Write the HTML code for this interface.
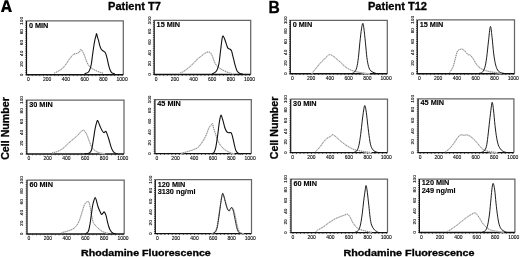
<!DOCTYPE html>
<html><head><meta charset="utf-8"><style>
html,body{margin:0;padding:0;background:#fff;width:520px;height:257px;overflow:hidden}
svg{display:block;font-family:"Liberation Sans", sans-serif;filter:blur(0.3px)}
</style></head><body>
<svg width="520" height="257" viewBox="0 0 520 257">
<rect width="520" height="257" fill="#fff"/>
<path d="M26.50 20.90H123.30V74.80" fill="none" stroke="#666" stroke-width="1.25"/>
<path d="M26.50 20.90V74.80" fill="none" stroke="#111" stroke-width="1.2"/>
<path d="M25.90 74.80H123.30" fill="none" stroke="#111" stroke-width="1.45"/>
<path d="M28.50 75.20v0.9 M32.24 75.20v0.9 M35.99 75.20v0.9 M39.73 75.20v0.9 M43.48 75.20v0.9 M47.22 75.20v0.9 M50.96 75.20v0.9 M54.71 75.20v0.9 M58.45 75.20v0.9 M62.20 75.20v0.9 M65.94 75.20v0.9 M69.68 75.20v0.9 M73.43 75.20v0.9 M77.17 75.20v0.9 M80.92 75.20v0.9 M84.66 75.20v0.9 M88.40 75.20v0.9 M92.15 75.20v0.9 M95.89 75.20v0.9 M99.64 75.20v0.9 M103.38 75.20v0.9 M107.12 75.20v0.9 M110.87 75.20v0.9 M114.61 75.20v0.9 M118.36 75.20v0.9 M122.10 75.20v0.9 M26.20 74.80h-1.0 M26.20 72.64h-1.0 M26.20 70.49h-1.0 M26.20 68.33h-1.0 M26.20 66.18h-1.0 M26.20 64.02h-1.0 M26.20 61.86h-1.0 M26.20 59.71h-1.0 M26.20 57.55h-1.0 M26.20 55.40h-1.0 M26.20 53.24h-1.0 M26.20 51.08h-1.0 M26.20 48.93h-1.0 M26.20 46.77h-1.0 M26.20 44.62h-1.0 M26.20 42.46h-1.0 M26.20 40.30h-1.0 M26.20 38.15h-1.0 M26.20 35.99h-1.0 M26.20 33.84h-1.0 M26.20 31.68h-1.0 M26.20 29.52h-1.0 M26.20 27.37h-1.0 M26.20 25.21h-1.0 M26.20 23.06h-1.0 M26.20 20.90h-1.0" stroke="#111" stroke-width="0.7" fill="none"/>
<text transform="translate(28.50 81.10) scale(1 0.9)" font-size="5.0" text-anchor="middle" fill="#000" stroke="#000" stroke-width="0.1">0</text>
<text transform="translate(47.22 81.10) scale(1 0.9)" font-size="5.0" text-anchor="middle" fill="#000" stroke="#000" stroke-width="0.1">200</text>
<text transform="translate(65.94 81.10) scale(1 0.9)" font-size="5.0" text-anchor="middle" fill="#000" stroke="#000" stroke-width="0.1">400</text>
<text transform="translate(84.66 81.10) scale(1 0.9)" font-size="5.0" text-anchor="middle" fill="#000" stroke="#000" stroke-width="0.1">600</text>
<text transform="translate(103.38 81.10) scale(1 0.9)" font-size="5.0" text-anchor="middle" fill="#000" stroke="#000" stroke-width="0.1">800</text>
<text transform="translate(122.10 81.10) scale(1 0.9)" font-size="5.0" text-anchor="middle" fill="#000" stroke="#000" stroke-width="0.1">1000</text>
<text transform="translate(22.80 74.80) rotate(-90) scale(1 0.88)" font-size="4.8" text-anchor="middle" fill="#000" stroke="#000" stroke-width="0.1">0</text>
<text transform="translate(22.80 64.02) rotate(-90) scale(1 0.88)" font-size="4.8" text-anchor="middle" fill="#000" stroke="#000" stroke-width="0.1">20</text>
<text transform="translate(22.80 53.24) rotate(-90) scale(1 0.88)" font-size="4.8" text-anchor="middle" fill="#000" stroke="#000" stroke-width="0.1">40</text>
<text transform="translate(22.80 42.46) rotate(-90) scale(1 0.88)" font-size="4.8" text-anchor="middle" fill="#000" stroke="#000" stroke-width="0.1">60</text>
<text transform="translate(22.80 31.68) rotate(-90) scale(1 0.88)" font-size="4.8" text-anchor="middle" fill="#000" stroke="#000" stroke-width="0.1">80</text>
<text transform="translate(22.80 20.90) rotate(-90) scale(1 0.88)" font-size="4.8" text-anchor="middle" fill="#000" stroke="#000" stroke-width="0.1">100</text>
<text x="28.90" y="27.50" font-size="7.3" font-weight="bold" fill="#000" stroke="#000" stroke-width="0.12">0 MIN</text>
<path d="M54.20 73.19 C54.90 72.84 57.00 71.90 58.40 71.08 C59.80 70.26 61.32 69.44 62.60 68.26 C63.88 67.09 65.05 65.45 66.10 64.04 C67.15 62.63 67.97 61.11 68.90 59.82 C69.83 58.53 70.88 57.24 71.70 56.30 C72.52 55.36 72.98 54.65 73.80 54.19 C74.62 53.72 75.67 53.83 76.60 53.48 C77.53 53.13 78.70 52.74 79.40 52.07 C80.10 51.40 80.28 49.58 80.80 49.46 C81.32 49.34 81.92 50.46 82.50 51.37 C83.08 52.27 83.77 53.60 84.30 54.89 C84.83 56.18 85.23 57.82 85.70 59.11 C86.17 60.40 86.52 61.46 87.10 62.63 C87.68 63.81 88.30 65.13 89.20 66.15 C90.10 67.17 91.05 67.88 92.50 68.77 C93.95 69.65 96.10 70.73 97.90 71.48 C99.70 72.24 102.40 72.99 103.30 73.29" fill="none" stroke="#dedede" stroke-width="1.3"/>
<path d="M54.20 73.19 C54.90 72.84 57.00 71.90 58.40 71.08 C59.80 70.26 61.32 69.44 62.60 68.26 C63.88 67.09 65.05 65.45 66.10 64.04 C67.15 62.63 67.97 61.11 68.90 59.82 C69.83 58.53 70.88 57.24 71.70 56.30 C72.52 55.36 72.98 54.65 73.80 54.19 C74.62 53.72 75.67 53.83 76.60 53.48 C77.53 53.13 78.70 52.74 79.40 52.07 C80.10 51.40 80.28 49.58 80.80 49.46 C81.32 49.34 81.92 50.46 82.50 51.37 C83.08 52.27 83.77 53.60 84.30 54.89 C84.83 56.18 85.23 57.82 85.70 59.11 C86.17 60.40 86.52 61.46 87.10 62.63 C87.68 63.81 88.30 65.13 89.20 66.15 C90.10 67.17 91.05 67.88 92.50 68.77 C93.95 69.65 96.10 70.73 97.90 71.48 C99.70 72.24 102.40 72.99 103.30 73.29" fill="none" stroke="#7a7a7a" stroke-width="0.95" stroke-dasharray="1.0 1.0"/>
<path d="M84.50 73.79 C85.10 73.56 87.22 73.07 88.10 72.39 C88.98 71.70 89.27 71.03 89.80 69.67 C90.33 68.31 90.85 66.64 91.30 64.24 C91.75 61.84 92.08 58.29 92.50 55.29 C92.92 52.29 93.40 48.81 93.80 46.24 C94.20 43.68 94.57 41.55 94.90 39.91 C95.23 38.26 95.52 37.43 95.80 36.39 C96.08 35.35 96.32 33.52 96.60 33.67 C96.88 33.82 97.20 36.25 97.50 37.29 C97.80 38.33 98.03 38.56 98.40 39.91 C98.77 41.25 99.25 43.83 99.70 45.34 C100.15 46.84 100.57 48.05 101.10 48.96 C101.63 49.86 102.30 50.26 102.90 50.77 C103.50 51.27 104.18 51.37 104.70 51.97 C105.22 52.58 105.55 53.10 106.00 54.39 C106.45 55.68 106.97 57.92 107.40 59.72 C107.83 61.51 108.15 63.44 108.60 65.15 C109.05 66.86 109.55 68.68 110.10 69.97 C110.65 71.26 111.10 72.25 111.90 72.89 C112.70 73.53 114.40 73.64 114.90 73.79" fill="none" stroke="#111" stroke-width="1.1" stroke-linejoin="round"/>
<path d="M154.20 20.40H250.70V74.45" fill="none" stroke="#666" stroke-width="1.25"/>
<path d="M154.20 20.40V74.45" fill="none" stroke="#111" stroke-width="1.2"/>
<path d="M153.60 74.45H250.70" fill="none" stroke="#111" stroke-width="1.45"/>
<path d="M156.20 74.85v0.9 M159.93 74.85v0.9 M163.66 74.85v0.9 M167.40 74.85v0.9 M171.13 74.85v0.9 M174.86 74.85v0.9 M178.59 74.85v0.9 M182.32 74.85v0.9 M186.06 74.85v0.9 M189.79 74.85v0.9 M193.52 74.85v0.9 M197.25 74.85v0.9 M200.98 74.85v0.9 M204.72 74.85v0.9 M208.45 74.85v0.9 M212.18 74.85v0.9 M215.91 74.85v0.9 M219.64 74.85v0.9 M223.38 74.85v0.9 M227.11 74.85v0.9 M230.84 74.85v0.9 M234.57 74.85v0.9 M238.30 74.85v0.9 M242.04 74.85v0.9 M245.77 74.85v0.9 M249.50 74.85v0.9 M153.90 74.45h-1.0 M153.90 72.29h-1.0 M153.90 70.13h-1.0 M153.90 67.96h-1.0 M153.90 65.80h-1.0 M153.90 63.64h-1.0 M153.90 61.48h-1.0 M153.90 59.32h-1.0 M153.90 57.15h-1.0 M153.90 54.99h-1.0 M153.90 52.83h-1.0 M153.90 50.67h-1.0 M153.90 48.51h-1.0 M153.90 46.34h-1.0 M153.90 44.18h-1.0 M153.90 42.02h-1.0 M153.90 39.86h-1.0 M153.90 37.70h-1.0 M153.90 35.53h-1.0 M153.90 33.37h-1.0 M153.90 31.21h-1.0 M153.90 29.05h-1.0 M153.90 26.89h-1.0 M153.90 24.72h-1.0 M153.90 22.56h-1.0 M153.90 20.40h-1.0" stroke="#111" stroke-width="0.7" fill="none"/>
<text transform="translate(156.20 80.75) scale(1 0.9)" font-size="5.0" text-anchor="middle" fill="#000" stroke="#000" stroke-width="0.1">0</text>
<text transform="translate(174.86 80.75) scale(1 0.9)" font-size="5.0" text-anchor="middle" fill="#000" stroke="#000" stroke-width="0.1">200</text>
<text transform="translate(193.52 80.75) scale(1 0.9)" font-size="5.0" text-anchor="middle" fill="#000" stroke="#000" stroke-width="0.1">400</text>
<text transform="translate(212.18 80.75) scale(1 0.9)" font-size="5.0" text-anchor="middle" fill="#000" stroke="#000" stroke-width="0.1">600</text>
<text transform="translate(230.84 80.75) scale(1 0.9)" font-size="5.0" text-anchor="middle" fill="#000" stroke="#000" stroke-width="0.1">800</text>
<text transform="translate(249.50 80.75) scale(1 0.9)" font-size="5.0" text-anchor="middle" fill="#000" stroke="#000" stroke-width="0.1">1000</text>
<text transform="translate(150.50 74.45) rotate(-90) scale(1 0.88)" font-size="4.8" text-anchor="middle" fill="#000" stroke="#000" stroke-width="0.1">0</text>
<text transform="translate(150.50 63.64) rotate(-90) scale(1 0.88)" font-size="4.8" text-anchor="middle" fill="#000" stroke="#000" stroke-width="0.1">20</text>
<text transform="translate(150.50 52.83) rotate(-90) scale(1 0.88)" font-size="4.8" text-anchor="middle" fill="#000" stroke="#000" stroke-width="0.1">40</text>
<text transform="translate(150.50 42.02) rotate(-90) scale(1 0.88)" font-size="4.8" text-anchor="middle" fill="#000" stroke="#000" stroke-width="0.1">60</text>
<text transform="translate(150.50 31.21) rotate(-90) scale(1 0.88)" font-size="4.8" text-anchor="middle" fill="#000" stroke="#000" stroke-width="0.1">80</text>
<text transform="translate(150.50 20.40) rotate(-90) scale(1 0.88)" font-size="4.8" text-anchor="middle" fill="#000" stroke="#000" stroke-width="0.1">100</text>
<text x="156.60" y="27.00" font-size="7.3" font-weight="bold" fill="#000" stroke="#000" stroke-width="0.12">15 MIN</text>
<path d="M178.50 73.74 C179.20 73.44 181.30 72.70 182.70 71.93 C184.10 71.16 185.62 70.05 186.90 69.11 C188.18 68.16 189.23 67.34 190.40 66.28 C191.57 65.22 192.73 63.93 193.90 62.75 C195.07 61.58 196.23 60.28 197.40 59.22 C198.57 58.16 199.73 57.34 200.90 56.40 C202.07 55.46 203.35 54.28 204.40 53.58 C205.45 52.87 206.38 52.40 207.20 52.16 C208.02 51.93 208.65 51.93 209.30 52.16 C209.95 52.40 210.57 52.87 211.10 53.58 C211.63 54.28 212.08 55.36 212.50 56.40 C212.92 57.44 213.07 58.50 213.60 59.83 C214.13 61.16 214.75 63.00 215.70 64.37 C216.65 65.73 218.10 67.04 219.30 68.00 C220.50 68.95 221.40 69.36 222.90 70.11 C224.40 70.87 226.52 71.90 228.30 72.53 C230.08 73.17 232.72 73.71 233.60 73.95" fill="none" stroke="#dedede" stroke-width="1.3"/>
<path d="M178.50 73.74 C179.20 73.44 181.30 72.70 182.70 71.93 C184.10 71.16 185.62 70.05 186.90 69.11 C188.18 68.16 189.23 67.34 190.40 66.28 C191.57 65.22 192.73 63.93 193.90 62.75 C195.07 61.58 196.23 60.28 197.40 59.22 C198.57 58.16 199.73 57.34 200.90 56.40 C202.07 55.46 203.35 54.28 204.40 53.58 C205.45 52.87 206.38 52.40 207.20 52.16 C208.02 51.93 208.65 51.93 209.30 52.16 C209.95 52.40 210.57 52.87 211.10 53.58 C211.63 54.28 212.08 55.36 212.50 56.40 C212.92 57.44 213.07 58.50 213.60 59.83 C214.13 61.16 214.75 63.00 215.70 64.37 C216.65 65.73 218.10 67.04 219.30 68.00 C220.50 68.95 221.40 69.36 222.90 70.11 C224.40 70.87 226.52 71.90 228.30 72.53 C230.08 73.17 232.72 73.71 233.60 73.95" fill="none" stroke="#7a7a7a" stroke-width="0.95" stroke-dasharray="1.0 1.0"/>
<path d="M212.20 73.95 C212.78 73.61 214.82 72.77 215.70 71.93 C216.58 71.09 216.95 70.32 217.50 68.90 C218.05 67.49 218.58 65.71 219.00 63.46 C219.42 61.21 219.65 58.25 220.00 55.39 C220.35 52.53 220.77 49.04 221.10 46.32 C221.43 43.59 221.70 40.80 222.00 39.06 C222.30 37.31 222.52 35.96 222.90 35.83 C223.28 35.69 223.85 37.26 224.30 38.25 C224.75 39.24 225.18 40.58 225.60 41.78 C226.02 42.97 226.42 44.35 226.80 45.41 C227.18 46.47 227.42 47.53 227.90 48.13 C228.38 48.74 229.10 48.58 229.70 49.04 C230.30 49.49 231.00 49.79 231.50 50.85 C232.00 51.91 232.28 53.74 232.70 55.39 C233.12 57.04 233.55 58.94 234.00 60.74 C234.45 62.53 234.87 64.43 235.40 66.18 C235.93 67.93 236.45 70.01 237.20 71.22 C237.95 72.43 239.00 72.99 239.90 73.44 C240.80 73.90 242.15 73.86 242.60 73.95" fill="none" stroke="#111" stroke-width="1.1" stroke-linejoin="round"/>
<path d="M26.80 100.00H124.00V154.00" fill="none" stroke="#666" stroke-width="1.25"/>
<path d="M26.80 100.00V154.00" fill="none" stroke="#111" stroke-width="1.2"/>
<path d="M26.20 154.00H124.00" fill="none" stroke="#111" stroke-width="1.45"/>
<path d="M28.80 154.40v0.9 M32.56 154.40v0.9 M36.32 154.40v0.9 M40.08 154.40v0.9 M43.84 154.40v0.9 M47.60 154.40v0.9 M51.36 154.40v0.9 M55.12 154.40v0.9 M58.88 154.40v0.9 M62.64 154.40v0.9 M66.40 154.40v0.9 M70.16 154.40v0.9 M73.92 154.40v0.9 M77.68 154.40v0.9 M81.44 154.40v0.9 M85.20 154.40v0.9 M88.96 154.40v0.9 M92.72 154.40v0.9 M96.48 154.40v0.9 M100.24 154.40v0.9 M104.00 154.40v0.9 M107.76 154.40v0.9 M111.52 154.40v0.9 M115.28 154.40v0.9 M119.04 154.40v0.9 M122.80 154.40v0.9 M26.50 154.00h-1.0 M26.50 151.84h-1.0 M26.50 149.68h-1.0 M26.50 147.52h-1.0 M26.50 145.36h-1.0 M26.50 143.20h-1.0 M26.50 141.04h-1.0 M26.50 138.88h-1.0 M26.50 136.72h-1.0 M26.50 134.56h-1.0 M26.50 132.40h-1.0 M26.50 130.24h-1.0 M26.50 128.08h-1.0 M26.50 125.92h-1.0 M26.50 123.76h-1.0 M26.50 121.60h-1.0 M26.50 119.44h-1.0 M26.50 117.28h-1.0 M26.50 115.12h-1.0 M26.50 112.96h-1.0 M26.50 110.80h-1.0 M26.50 108.64h-1.0 M26.50 106.48h-1.0 M26.50 104.32h-1.0 M26.50 102.16h-1.0 M26.50 100.00h-1.0" stroke="#111" stroke-width="0.7" fill="none"/>
<text transform="translate(28.80 160.30) scale(1 0.9)" font-size="5.0" text-anchor="middle" fill="#000" stroke="#000" stroke-width="0.1">0</text>
<text transform="translate(47.60 160.30) scale(1 0.9)" font-size="5.0" text-anchor="middle" fill="#000" stroke="#000" stroke-width="0.1">200</text>
<text transform="translate(66.40 160.30) scale(1 0.9)" font-size="5.0" text-anchor="middle" fill="#000" stroke="#000" stroke-width="0.1">400</text>
<text transform="translate(85.20 160.30) scale(1 0.9)" font-size="5.0" text-anchor="middle" fill="#000" stroke="#000" stroke-width="0.1">600</text>
<text transform="translate(104.00 160.30) scale(1 0.9)" font-size="5.0" text-anchor="middle" fill="#000" stroke="#000" stroke-width="0.1">800</text>
<text transform="translate(122.80 160.30) scale(1 0.9)" font-size="5.0" text-anchor="middle" fill="#000" stroke="#000" stroke-width="0.1">1000</text>
<text transform="translate(23.10 154.00) rotate(-90) scale(1 0.88)" font-size="4.8" text-anchor="middle" fill="#000" stroke="#000" stroke-width="0.1">0</text>
<text transform="translate(23.10 143.20) rotate(-90) scale(1 0.88)" font-size="4.8" text-anchor="middle" fill="#000" stroke="#000" stroke-width="0.1">20</text>
<text transform="translate(23.10 132.40) rotate(-90) scale(1 0.88)" font-size="4.8" text-anchor="middle" fill="#000" stroke="#000" stroke-width="0.1">40</text>
<text transform="translate(23.10 121.60) rotate(-90) scale(1 0.88)" font-size="4.8" text-anchor="middle" fill="#000" stroke="#000" stroke-width="0.1">60</text>
<text transform="translate(23.10 110.80) rotate(-90) scale(1 0.88)" font-size="4.8" text-anchor="middle" fill="#000" stroke="#000" stroke-width="0.1">80</text>
<text transform="translate(23.10 100.00) rotate(-90) scale(1 0.88)" font-size="4.8" text-anchor="middle" fill="#000" stroke="#000" stroke-width="0.1">100</text>
<text x="29.20" y="106.60" font-size="7.3" font-weight="bold" fill="#000" stroke="#000" stroke-width="0.12">30 MIN</text>
<path d="M52.20 152.79 C52.90 152.63 55.00 152.26 56.40 151.79 C57.80 151.32 59.32 150.68 60.60 149.98 C61.88 149.27 62.93 148.55 64.10 147.56 C65.27 146.58 66.43 145.15 67.60 144.04 C68.77 142.94 69.93 141.92 71.10 140.93 C72.27 139.94 73.43 139.12 74.60 138.11 C75.77 137.11 76.98 136.02 78.10 134.89 C79.22 133.77 80.37 132.15 81.30 131.37 C82.23 130.60 83.00 130.15 83.70 130.27 C84.40 130.39 84.92 131.19 85.50 132.08 C86.08 132.97 86.53 133.99 87.20 135.60 C87.87 137.21 88.77 139.87 89.50 141.73 C90.23 143.59 90.65 145.25 91.60 146.76 C92.55 148.27 93.85 149.76 95.20 150.78 C96.55 151.80 98.05 152.39 99.70 152.89 C101.35 153.40 104.20 153.65 105.10 153.80" fill="none" stroke="#dedede" stroke-width="1.3"/>
<path d="M52.20 152.79 C52.90 152.63 55.00 152.26 56.40 151.79 C57.80 151.32 59.32 150.68 60.60 149.98 C61.88 149.27 62.93 148.55 64.10 147.56 C65.27 146.58 66.43 145.15 67.60 144.04 C68.77 142.94 69.93 141.92 71.10 140.93 C72.27 139.94 73.43 139.12 74.60 138.11 C75.77 137.11 76.98 136.02 78.10 134.89 C79.22 133.77 80.37 132.15 81.30 131.37 C82.23 130.60 83.00 130.15 83.70 130.27 C84.40 130.39 84.92 131.19 85.50 132.08 C86.08 132.97 86.53 133.99 87.20 135.60 C87.87 137.21 88.77 139.87 89.50 141.73 C90.23 143.59 90.65 145.25 91.60 146.76 C92.55 148.27 93.85 149.76 95.20 150.78 C96.55 151.80 98.05 152.39 99.70 152.89 C101.35 153.40 104.20 153.65 105.10 153.80" fill="none" stroke="#7a7a7a" stroke-width="0.95" stroke-dasharray="1.0 1.0"/>
<path d="M84.50 153.80 C85.25 153.72 87.87 153.83 89.00 153.30 C90.13 152.76 90.72 151.94 91.30 150.58 C91.88 149.22 92.08 147.41 92.50 145.15 C92.92 142.89 93.40 139.55 93.80 137.01 C94.20 134.46 94.52 131.96 94.90 129.87 C95.28 127.77 95.68 125.99 96.10 124.44 C96.52 122.88 96.98 120.82 97.40 120.51 C97.82 120.21 98.10 121.52 98.60 122.63 C99.10 123.73 99.80 125.79 100.40 127.15 C101.00 128.51 101.60 129.87 102.20 130.77 C102.80 131.68 103.40 132.50 104.00 132.58 C104.60 132.66 105.27 130.97 105.80 131.27 C106.33 131.58 106.67 132.98 107.20 134.39 C107.73 135.80 108.40 137.78 109.00 139.72 C109.60 141.66 110.20 144.25 110.80 146.06 C111.40 147.87 111.95 149.44 112.60 150.58 C113.25 151.72 113.90 152.36 114.70 152.89 C115.50 153.43 116.95 153.65 117.40 153.80" fill="none" stroke="#111" stroke-width="1.1" stroke-linejoin="round"/>
<path d="M154.90 99.50H251.30V153.60" fill="none" stroke="#666" stroke-width="1.25"/>
<path d="M154.90 99.50V153.60" fill="none" stroke="#111" stroke-width="1.2"/>
<path d="M154.30 153.60H251.30" fill="none" stroke="#111" stroke-width="1.45"/>
<path d="M156.90 154.00v0.9 M160.63 154.00v0.9 M164.36 154.00v0.9 M168.08 154.00v0.9 M171.81 154.00v0.9 M175.54 154.00v0.9 M179.27 154.00v0.9 M183.00 154.00v0.9 M186.72 154.00v0.9 M190.45 154.00v0.9 M194.18 154.00v0.9 M197.91 154.00v0.9 M201.64 154.00v0.9 M205.36 154.00v0.9 M209.09 154.00v0.9 M212.82 154.00v0.9 M216.55 154.00v0.9 M220.28 154.00v0.9 M224.00 154.00v0.9 M227.73 154.00v0.9 M231.46 154.00v0.9 M235.19 154.00v0.9 M238.92 154.00v0.9 M242.64 154.00v0.9 M246.37 154.00v0.9 M250.10 154.00v0.9 M154.60 153.60h-1.0 M154.60 151.44h-1.0 M154.60 149.27h-1.0 M154.60 147.11h-1.0 M154.60 144.94h-1.0 M154.60 142.78h-1.0 M154.60 140.62h-1.0 M154.60 138.45h-1.0 M154.60 136.29h-1.0 M154.60 134.12h-1.0 M154.60 131.96h-1.0 M154.60 129.80h-1.0 M154.60 127.63h-1.0 M154.60 125.47h-1.0 M154.60 123.30h-1.0 M154.60 121.14h-1.0 M154.60 118.98h-1.0 M154.60 116.81h-1.0 M154.60 114.65h-1.0 M154.60 112.48h-1.0 M154.60 110.32h-1.0 M154.60 108.16h-1.0 M154.60 105.99h-1.0 M154.60 103.83h-1.0 M154.60 101.66h-1.0 M154.60 99.50h-1.0" stroke="#111" stroke-width="0.7" fill="none"/>
<text transform="translate(156.90 159.90) scale(1 0.9)" font-size="5.0" text-anchor="middle" fill="#000" stroke="#000" stroke-width="0.1">0</text>
<text transform="translate(175.54 159.90) scale(1 0.9)" font-size="5.0" text-anchor="middle" fill="#000" stroke="#000" stroke-width="0.1">200</text>
<text transform="translate(194.18 159.90) scale(1 0.9)" font-size="5.0" text-anchor="middle" fill="#000" stroke="#000" stroke-width="0.1">400</text>
<text transform="translate(212.82 159.90) scale(1 0.9)" font-size="5.0" text-anchor="middle" fill="#000" stroke="#000" stroke-width="0.1">600</text>
<text transform="translate(231.46 159.90) scale(1 0.9)" font-size="5.0" text-anchor="middle" fill="#000" stroke="#000" stroke-width="0.1">800</text>
<text transform="translate(250.10 159.90) scale(1 0.9)" font-size="5.0" text-anchor="middle" fill="#000" stroke="#000" stroke-width="0.1">1000</text>
<text transform="translate(151.20 153.60) rotate(-90) scale(1 0.88)" font-size="4.8" text-anchor="middle" fill="#000" stroke="#000" stroke-width="0.1">0</text>
<text transform="translate(151.20 142.78) rotate(-90) scale(1 0.88)" font-size="4.8" text-anchor="middle" fill="#000" stroke="#000" stroke-width="0.1">20</text>
<text transform="translate(151.20 131.96) rotate(-90) scale(1 0.88)" font-size="4.8" text-anchor="middle" fill="#000" stroke="#000" stroke-width="0.1">40</text>
<text transform="translate(151.20 121.14) rotate(-90) scale(1 0.88)" font-size="4.8" text-anchor="middle" fill="#000" stroke="#000" stroke-width="0.1">60</text>
<text transform="translate(151.20 110.32) rotate(-90) scale(1 0.88)" font-size="4.8" text-anchor="middle" fill="#000" stroke="#000" stroke-width="0.1">80</text>
<text transform="translate(151.20 99.50) rotate(-90) scale(1 0.88)" font-size="4.8" text-anchor="middle" fill="#000" stroke="#000" stroke-width="0.1">100</text>
<text x="157.30" y="106.10" font-size="7.3" font-weight="bold" fill="#000" stroke="#000" stroke-width="0.12">45 MIN</text>
<path d="M180.90 153.30 C181.88 153.04 184.82 152.36 186.80 151.78 C188.78 151.21 191.07 150.49 192.80 149.87 C194.53 149.24 195.98 148.86 197.20 148.05 C198.42 147.24 199.17 146.15 200.10 145.02 C201.03 143.89 201.93 142.65 202.80 141.29 C203.67 139.92 204.57 138.33 205.30 136.85 C206.03 135.36 206.58 133.90 207.20 132.40 C207.82 130.91 208.33 129.11 209.00 127.86 C209.67 126.62 210.62 125.64 211.20 124.94 C211.78 124.23 212.10 123.08 212.50 123.62 C212.90 124.16 213.12 126.50 213.60 128.16 C214.08 129.83 214.80 131.82 215.40 133.62 C216.00 135.42 216.55 137.32 217.20 138.96 C217.85 140.61 218.50 142.14 219.30 143.51 C220.10 144.87 220.95 146.03 222.00 147.14 C223.05 148.25 224.25 149.26 225.60 150.17 C226.95 151.08 228.62 151.95 230.10 152.59 C231.58 153.23 233.77 153.77 234.50 154.00" fill="none" stroke="#dedede" stroke-width="1.3"/>
<path d="M180.90 153.30 C181.88 153.04 184.82 152.36 186.80 151.78 C188.78 151.21 191.07 150.49 192.80 149.87 C194.53 149.24 195.98 148.86 197.20 148.05 C198.42 147.24 199.17 146.15 200.10 145.02 C201.03 143.89 201.93 142.65 202.80 141.29 C203.67 139.92 204.57 138.33 205.30 136.85 C206.03 135.36 206.58 133.90 207.20 132.40 C207.82 130.91 208.33 129.11 209.00 127.86 C209.67 126.62 210.62 125.64 211.20 124.94 C211.78 124.23 212.10 123.08 212.50 123.62 C212.90 124.16 213.12 126.50 213.60 128.16 C214.08 129.83 214.80 131.82 215.40 133.62 C216.00 135.42 216.55 137.32 217.20 138.96 C217.85 140.61 218.50 142.14 219.30 143.51 C220.10 144.87 220.95 146.03 222.00 147.14 C223.05 148.25 224.25 149.26 225.60 150.17 C226.95 151.08 228.62 151.95 230.10 152.59 C231.58 153.23 233.77 153.77 234.50 154.00" fill="none" stroke="#7a7a7a" stroke-width="0.95" stroke-dasharray="1.0 1.0"/>
<path d="M211.30 154.00 C211.73 153.77 213.22 153.43 213.90 152.59 C214.58 151.75 214.95 150.62 215.40 148.96 C215.85 147.29 216.18 145.16 216.60 142.60 C217.02 140.04 217.50 136.63 217.90 133.62 C218.30 130.60 218.65 127.09 219.00 124.53 C219.35 121.97 219.68 119.84 220.00 118.27 C220.32 116.71 220.57 115.30 220.90 115.14 C221.23 114.99 221.60 116.25 222.00 117.37 C222.40 118.48 222.85 120.16 223.30 121.81 C223.75 123.45 224.17 125.66 224.70 127.26 C225.23 128.85 225.85 130.49 226.50 131.39 C227.15 132.30 227.85 132.49 228.60 132.71 C229.35 132.93 230.40 132.25 231.00 132.71 C231.60 133.16 231.82 134.24 232.20 135.43 C232.58 136.63 232.92 138.22 233.30 139.87 C233.68 141.52 234.08 143.61 234.50 145.32 C234.92 147.04 235.20 148.87 235.80 150.17 C236.40 151.46 237.12 152.46 238.10 153.10 C239.08 153.73 241.10 153.85 241.70 154.00" fill="none" stroke="#111" stroke-width="1.1" stroke-linejoin="round"/>
<path d="M27.00 180.20H124.20V234.00" fill="none" stroke="#666" stroke-width="1.25"/>
<path d="M27.00 180.20V234.00" fill="none" stroke="#111" stroke-width="1.2"/>
<path d="M26.40 234.00H124.20" fill="none" stroke="#111" stroke-width="1.45"/>
<path d="M29.00 234.40v0.9 M32.76 234.40v0.9 M36.52 234.40v0.9 M40.28 234.40v0.9 M44.04 234.40v0.9 M47.80 234.40v0.9 M51.56 234.40v0.9 M55.32 234.40v0.9 M59.08 234.40v0.9 M62.84 234.40v0.9 M66.60 234.40v0.9 M70.36 234.40v0.9 M74.12 234.40v0.9 M77.88 234.40v0.9 M81.64 234.40v0.9 M85.40 234.40v0.9 M89.16 234.40v0.9 M92.92 234.40v0.9 M96.68 234.40v0.9 M100.44 234.40v0.9 M104.20 234.40v0.9 M107.96 234.40v0.9 M111.72 234.40v0.9 M115.48 234.40v0.9 M119.24 234.40v0.9 M123.00 234.40v0.9 M26.70 234.00h-1.0 M26.70 231.85h-1.0 M26.70 229.70h-1.0 M26.70 227.54h-1.0 M26.70 225.39h-1.0 M26.70 223.24h-1.0 M26.70 221.09h-1.0 M26.70 218.94h-1.0 M26.70 216.78h-1.0 M26.70 214.63h-1.0 M26.70 212.48h-1.0 M26.70 210.33h-1.0 M26.70 208.18h-1.0 M26.70 206.02h-1.0 M26.70 203.87h-1.0 M26.70 201.72h-1.0 M26.70 199.57h-1.0 M26.70 197.42h-1.0 M26.70 195.26h-1.0 M26.70 193.11h-1.0 M26.70 190.96h-1.0 M26.70 188.81h-1.0 M26.70 186.66h-1.0 M26.70 184.50h-1.0 M26.70 182.35h-1.0 M26.70 180.20h-1.0" stroke="#111" stroke-width="0.7" fill="none"/>
<text transform="translate(29.00 240.30) scale(1 0.9)" font-size="5.0" text-anchor="middle" fill="#000" stroke="#000" stroke-width="0.1">0</text>
<text transform="translate(47.80 240.30) scale(1 0.9)" font-size="5.0" text-anchor="middle" fill="#000" stroke="#000" stroke-width="0.1">200</text>
<text transform="translate(66.60 240.30) scale(1 0.9)" font-size="5.0" text-anchor="middle" fill="#000" stroke="#000" stroke-width="0.1">400</text>
<text transform="translate(85.40 240.30) scale(1 0.9)" font-size="5.0" text-anchor="middle" fill="#000" stroke="#000" stroke-width="0.1">600</text>
<text transform="translate(104.20 240.30) scale(1 0.9)" font-size="5.0" text-anchor="middle" fill="#000" stroke="#000" stroke-width="0.1">800</text>
<text transform="translate(123.00 240.30) scale(1 0.9)" font-size="5.0" text-anchor="middle" fill="#000" stroke="#000" stroke-width="0.1">1000</text>
<text transform="translate(23.30 234.00) rotate(-90) scale(1 0.88)" font-size="4.8" text-anchor="middle" fill="#000" stroke="#000" stroke-width="0.1">0</text>
<text transform="translate(23.30 223.24) rotate(-90) scale(1 0.88)" font-size="4.8" text-anchor="middle" fill="#000" stroke="#000" stroke-width="0.1">20</text>
<text transform="translate(23.30 212.48) rotate(-90) scale(1 0.88)" font-size="4.8" text-anchor="middle" fill="#000" stroke="#000" stroke-width="0.1">40</text>
<text transform="translate(23.30 201.72) rotate(-90) scale(1 0.88)" font-size="4.8" text-anchor="middle" fill="#000" stroke="#000" stroke-width="0.1">60</text>
<text transform="translate(23.30 190.96) rotate(-90) scale(1 0.88)" font-size="4.8" text-anchor="middle" fill="#000" stroke="#000" stroke-width="0.1">80</text>
<text transform="translate(23.30 180.20) rotate(-90) scale(1 0.88)" font-size="4.8" text-anchor="middle" fill="#000" stroke="#000" stroke-width="0.1">100</text>
<text x="29.40" y="186.80" font-size="7.3" font-weight="bold" fill="#000" stroke="#000" stroke-width="0.12">60 MIN</text>
<path d="M61.50 232.69 C62.60 232.41 66.18 231.62 68.10 230.98 C70.02 230.35 71.65 229.69 73.00 228.87 C74.35 228.05 75.25 227.20 76.20 226.06 C77.15 224.92 77.93 223.68 78.70 222.03 C79.47 220.39 80.12 218.26 80.80 216.20 C81.48 214.14 82.20 211.57 82.80 209.66 C83.40 207.75 83.82 205.96 84.40 204.74 C84.98 203.51 85.65 202.88 86.30 202.32 C86.95 201.77 87.78 201.20 88.30 201.42 C88.82 201.64 89.05 202.51 89.40 203.63 C89.75 204.75 90.05 206.23 90.40 208.16 C90.75 210.08 91.00 212.76 91.50 215.20 C92.00 217.63 92.63 220.93 93.40 222.74 C94.17 224.55 95.20 225.05 96.10 226.06 C97.00 227.06 97.75 227.87 98.80 228.77 C99.85 229.68 100.92 230.73 102.40 231.49 C103.88 232.24 106.82 232.99 107.70 233.30" fill="none" stroke="#dedede" stroke-width="1.3"/>
<path d="M61.50 232.69 C62.60 232.41 66.18 231.62 68.10 230.98 C70.02 230.35 71.65 229.69 73.00 228.87 C74.35 228.05 75.25 227.20 76.20 226.06 C77.15 224.92 77.93 223.68 78.70 222.03 C79.47 220.39 80.12 218.26 80.80 216.20 C81.48 214.14 82.20 211.57 82.80 209.66 C83.40 207.75 83.82 205.96 84.40 204.74 C84.98 203.51 85.65 202.88 86.30 202.32 C86.95 201.77 87.78 201.20 88.30 201.42 C88.82 201.64 89.05 202.51 89.40 203.63 C89.75 204.75 90.05 206.23 90.40 208.16 C90.75 210.08 91.00 212.76 91.50 215.20 C92.00 217.63 92.63 220.93 93.40 222.74 C94.17 224.55 95.20 225.05 96.10 226.06 C97.00 227.06 97.75 227.87 98.80 228.77 C99.85 229.68 100.92 230.73 102.40 231.49 C103.88 232.24 106.82 232.99 107.70 233.30" fill="none" stroke="#7a7a7a" stroke-width="0.95" stroke-dasharray="1.0 1.0"/>
<path d="M85.40 233.80 C85.85 233.46 87.45 232.78 88.10 231.79 C88.75 230.80 88.92 229.58 89.30 227.87 C89.68 226.16 90.03 223.93 90.40 221.53 C90.77 219.13 91.15 216.03 91.50 213.49 C91.85 210.94 92.12 208.36 92.50 206.25 C92.88 204.13 93.35 202.26 93.80 200.81 C94.25 199.37 94.75 197.60 95.20 197.60 C95.65 197.60 96.05 199.37 96.50 200.81 C96.95 202.26 97.37 204.59 97.90 206.25 C98.43 207.90 99.10 209.41 99.70 210.77 C100.30 212.13 100.97 214.01 101.50 214.39 C102.03 214.78 102.43 213.49 102.90 213.08 C103.37 212.68 103.78 211.61 104.30 211.98 C104.82 212.35 105.52 213.85 106.00 215.30 C106.48 216.74 106.77 218.83 107.20 220.63 C107.63 222.42 108.07 224.40 108.60 226.06 C109.13 227.71 109.65 229.37 110.40 230.58 C111.15 231.79 112.20 232.76 113.10 233.30 C114.00 233.83 115.35 233.72 115.80 233.80" fill="none" stroke="#111" stroke-width="1.1" stroke-linejoin="round"/>
<path d="M155.30 179.70H251.50V233.60" fill="none" stroke="#666" stroke-width="1.25"/>
<path d="M155.30 179.70V233.60" fill="none" stroke="#111" stroke-width="1.2"/>
<path d="M154.70 233.60H251.50" fill="none" stroke="#111" stroke-width="1.45"/>
<path d="M157.30 234.00v0.9 M161.02 234.00v0.9 M164.74 234.00v0.9 M168.46 234.00v0.9 M172.18 234.00v0.9 M175.90 234.00v0.9 M179.62 234.00v0.9 M183.34 234.00v0.9 M187.06 234.00v0.9 M190.78 234.00v0.9 M194.50 234.00v0.9 M198.22 234.00v0.9 M201.94 234.00v0.9 M205.66 234.00v0.9 M209.38 234.00v0.9 M213.10 234.00v0.9 M216.82 234.00v0.9 M220.54 234.00v0.9 M224.26 234.00v0.9 M227.98 234.00v0.9 M231.70 234.00v0.9 M235.42 234.00v0.9 M239.14 234.00v0.9 M242.86 234.00v0.9 M246.58 234.00v0.9 M250.30 234.00v0.9 M155.00 233.60h-1.0 M155.00 231.44h-1.0 M155.00 229.29h-1.0 M155.00 227.13h-1.0 M155.00 224.98h-1.0 M155.00 222.82h-1.0 M155.00 220.66h-1.0 M155.00 218.51h-1.0 M155.00 216.35h-1.0 M155.00 214.20h-1.0 M155.00 212.04h-1.0 M155.00 209.88h-1.0 M155.00 207.73h-1.0 M155.00 205.57h-1.0 M155.00 203.42h-1.0 M155.00 201.26h-1.0 M155.00 199.10h-1.0 M155.00 196.95h-1.0 M155.00 194.79h-1.0 M155.00 192.64h-1.0 M155.00 190.48h-1.0 M155.00 188.32h-1.0 M155.00 186.17h-1.0 M155.00 184.01h-1.0 M155.00 181.86h-1.0 M155.00 179.70h-1.0" stroke="#111" stroke-width="0.7" fill="none"/>
<text transform="translate(157.30 239.90) scale(1 0.9)" font-size="5.0" text-anchor="middle" fill="#000" stroke="#000" stroke-width="0.1">0</text>
<text transform="translate(175.90 239.90) scale(1 0.9)" font-size="5.0" text-anchor="middle" fill="#000" stroke="#000" stroke-width="0.1">200</text>
<text transform="translate(194.50 239.90) scale(1 0.9)" font-size="5.0" text-anchor="middle" fill="#000" stroke="#000" stroke-width="0.1">400</text>
<text transform="translate(213.10 239.90) scale(1 0.9)" font-size="5.0" text-anchor="middle" fill="#000" stroke="#000" stroke-width="0.1">600</text>
<text transform="translate(231.70 239.90) scale(1 0.9)" font-size="5.0" text-anchor="middle" fill="#000" stroke="#000" stroke-width="0.1">800</text>
<text transform="translate(250.30 239.90) scale(1 0.9)" font-size="5.0" text-anchor="middle" fill="#000" stroke="#000" stroke-width="0.1">1000</text>
<text transform="translate(151.60 233.60) rotate(-90) scale(1 0.88)" font-size="4.8" text-anchor="middle" fill="#000" stroke="#000" stroke-width="0.1">0</text>
<text transform="translate(151.60 222.82) rotate(-90) scale(1 0.88)" font-size="4.8" text-anchor="middle" fill="#000" stroke="#000" stroke-width="0.1">20</text>
<text transform="translate(151.60 212.04) rotate(-90) scale(1 0.88)" font-size="4.8" text-anchor="middle" fill="#000" stroke="#000" stroke-width="0.1">40</text>
<text transform="translate(151.60 201.26) rotate(-90) scale(1 0.88)" font-size="4.8" text-anchor="middle" fill="#000" stroke="#000" stroke-width="0.1">60</text>
<text transform="translate(151.60 190.48) rotate(-90) scale(1 0.88)" font-size="4.8" text-anchor="middle" fill="#000" stroke="#000" stroke-width="0.1">80</text>
<text transform="translate(151.60 179.70) rotate(-90) scale(1 0.88)" font-size="4.8" text-anchor="middle" fill="#000" stroke="#000" stroke-width="0.1">100</text>
<text x="157.70" y="186.70" font-size="7.3" font-weight="bold" fill="#000" stroke="#000" stroke-width="0.12">120 MIN</text>
<text x="157.70" y="194.10" font-size="7.3" font-weight="bold" fill="#000" stroke="#000" stroke-width="0.12">3130 ng/ml</text>
<path d="M211.79 233.60 C212.29 233.35 213.96 233.02 214.78 232.08 C215.60 231.13 216.16 229.86 216.71 227.92 C217.26 225.97 217.65 223.09 218.10 220.40 C218.54 217.71 218.94 214.79 219.38 211.78 C219.83 208.76 220.38 204.86 220.77 202.34 C221.17 199.82 221.42 198.14 221.74 196.65 C222.06 195.16 222.36 193.56 222.70 193.40 C223.04 193.25 223.32 194.40 223.77 195.74 C224.22 197.07 224.79 199.38 225.38 201.42 C225.96 203.47 226.64 206.45 227.30 208.02 C227.96 209.59 228.76 210.71 229.33 210.86 C229.90 211.01 230.26 209.49 230.72 208.93 C231.19 208.38 231.62 207.34 232.12 207.51 C232.62 207.68 233.22 208.60 233.72 209.95 C234.22 211.30 234.61 213.42 235.11 215.63 C235.61 217.85 236.22 221.03 236.72 223.25 C237.22 225.46 237.54 227.36 238.11 228.93 C238.68 230.50 239.20 231.91 240.14 232.69 C241.09 233.46 243.17 233.45 243.78 233.60" fill="none" stroke="#dedede" stroke-width="1.3"/>
<path d="M211.79 233.60 C212.29 233.35 213.96 233.02 214.78 232.08 C215.60 231.13 216.16 229.86 216.71 227.92 C217.26 225.97 217.65 223.09 218.10 220.40 C218.54 217.71 218.94 214.79 219.38 211.78 C219.83 208.76 220.38 204.86 220.77 202.34 C221.17 199.82 221.42 198.14 221.74 196.65 C222.06 195.16 222.36 193.56 222.70 193.40 C223.04 193.25 223.32 194.40 223.77 195.74 C224.22 197.07 224.79 199.38 225.38 201.42 C225.96 203.47 226.64 206.45 227.30 208.02 C227.96 209.59 228.76 210.71 229.33 210.86 C229.90 211.01 230.26 209.49 230.72 208.93 C231.19 208.38 231.62 207.34 232.12 207.51 C232.62 207.68 233.22 208.60 233.72 209.95 C234.22 211.30 234.61 213.42 235.11 215.63 C235.61 217.85 236.22 221.03 236.72 223.25 C237.22 225.46 237.54 227.36 238.11 228.93 C238.68 230.50 239.20 231.91 240.14 232.69 C241.09 233.46 243.17 233.45 243.78 233.60" fill="none" stroke="#7a7a7a" stroke-width="0.95" stroke-dasharray="1.0 1.0"/>
<path d="M212.50 233.60 C212.97 233.35 214.53 233.02 215.30 232.08 C216.07 231.13 216.58 229.86 217.10 227.92 C217.62 225.97 217.98 223.09 218.40 220.40 C218.82 217.71 219.18 214.79 219.60 211.78 C220.02 208.76 220.53 204.86 220.90 202.34 C221.27 199.82 221.50 198.14 221.80 196.65 C222.10 195.16 222.38 193.56 222.70 193.40 C223.02 193.25 223.28 194.40 223.70 195.74 C224.12 197.07 224.65 199.38 225.20 201.42 C225.75 203.47 226.38 206.45 227.00 208.02 C227.62 209.59 228.37 210.71 228.90 210.86 C229.43 211.01 229.77 209.49 230.20 208.93 C230.63 208.38 231.03 207.34 231.50 207.51 C231.97 207.68 232.53 208.60 233.00 209.95 C233.47 211.30 233.83 213.42 234.30 215.63 C234.77 217.85 235.33 221.03 235.80 223.25 C236.27 225.46 236.57 227.36 237.10 228.93 C237.63 230.50 238.12 231.91 239.00 232.69 C239.88 233.46 241.83 233.45 242.40 233.60" fill="none" stroke="#111" stroke-width="0.85" stroke-linejoin="round"/>
<path d="M290.30 20.30H387.30V73.75" fill="none" stroke="#666" stroke-width="1.25"/>
<path d="M290.30 20.30V73.75" fill="none" stroke="#111" stroke-width="1.2"/>
<path d="M289.70 73.75H387.30" fill="none" stroke="#111" stroke-width="1.45"/>
<path d="M292.30 74.15v0.9 M296.05 74.15v0.9 M299.80 74.15v0.9 M303.56 74.15v0.9 M307.31 74.15v0.9 M311.06 74.15v0.9 M314.81 74.15v0.9 M318.56 74.15v0.9 M322.32 74.15v0.9 M326.07 74.15v0.9 M329.82 74.15v0.9 M333.57 74.15v0.9 M337.32 74.15v0.9 M341.08 74.15v0.9 M344.83 74.15v0.9 M348.58 74.15v0.9 M352.33 74.15v0.9 M356.08 74.15v0.9 M359.84 74.15v0.9 M363.59 74.15v0.9 M367.34 74.15v0.9 M371.09 74.15v0.9 M374.84 74.15v0.9 M378.60 74.15v0.9 M382.35 74.15v0.9 M386.10 74.15v0.9 M290.00 73.75h-1.0 M290.00 71.61h-1.0 M290.00 69.47h-1.0 M290.00 67.34h-1.0 M290.00 65.20h-1.0 M290.00 63.06h-1.0 M290.00 60.92h-1.0 M290.00 58.78h-1.0 M290.00 56.65h-1.0 M290.00 54.51h-1.0 M290.00 52.37h-1.0 M290.00 50.23h-1.0 M290.00 48.09h-1.0 M290.00 45.96h-1.0 M290.00 43.82h-1.0 M290.00 41.68h-1.0 M290.00 39.54h-1.0 M290.00 37.40h-1.0 M290.00 35.27h-1.0 M290.00 33.13h-1.0 M290.00 30.99h-1.0 M290.00 28.85h-1.0 M290.00 26.71h-1.0 M290.00 24.58h-1.0 M290.00 22.44h-1.0 M290.00 20.30h-1.0" stroke="#111" stroke-width="0.7" fill="none"/>
<text transform="translate(292.30 80.05) scale(1 0.9)" font-size="5.0" text-anchor="middle" fill="#000" stroke="#000" stroke-width="0.1">0</text>
<text transform="translate(311.06 80.05) scale(1 0.9)" font-size="5.0" text-anchor="middle" fill="#000" stroke="#000" stroke-width="0.1">200</text>
<text transform="translate(329.82 80.05) scale(1 0.9)" font-size="5.0" text-anchor="middle" fill="#000" stroke="#000" stroke-width="0.1">400</text>
<text transform="translate(348.58 80.05) scale(1 0.9)" font-size="5.0" text-anchor="middle" fill="#000" stroke="#000" stroke-width="0.1">600</text>
<text transform="translate(367.34 80.05) scale(1 0.9)" font-size="5.0" text-anchor="middle" fill="#000" stroke="#000" stroke-width="0.1">800</text>
<text transform="translate(386.10 80.05) scale(1 0.9)" font-size="5.0" text-anchor="middle" fill="#000" stroke="#000" stroke-width="0.1">1000</text>
<text transform="translate(286.60 73.75) rotate(-90) scale(1 0.88)" font-size="4.8" text-anchor="middle" fill="#000" stroke="#000" stroke-width="0.1">0</text>
<text transform="translate(286.60 63.06) rotate(-90) scale(1 0.88)" font-size="4.8" text-anchor="middle" fill="#000" stroke="#000" stroke-width="0.1">20</text>
<text transform="translate(286.60 52.37) rotate(-90) scale(1 0.88)" font-size="4.8" text-anchor="middle" fill="#000" stroke="#000" stroke-width="0.1">40</text>
<text transform="translate(286.60 41.68) rotate(-90) scale(1 0.88)" font-size="4.8" text-anchor="middle" fill="#000" stroke="#000" stroke-width="0.1">60</text>
<text transform="translate(286.60 30.99) rotate(-90) scale(1 0.88)" font-size="4.8" text-anchor="middle" fill="#000" stroke="#000" stroke-width="0.1">80</text>
<text transform="translate(286.60 20.30) rotate(-90) scale(1 0.88)" font-size="4.8" text-anchor="middle" fill="#000" stroke="#000" stroke-width="0.1">100</text>
<text x="292.70" y="26.90" font-size="7.3" font-weight="bold" fill="#000" stroke="#000" stroke-width="0.12">0 MIN</text>
<path d="M311.50 73.55 C311.70 73.34 311.92 73.24 312.70 72.33 C313.48 71.41 315.03 69.48 316.20 68.06 C317.37 66.64 318.53 65.10 319.70 63.79 C320.87 62.49 322.03 61.42 323.20 60.24 C324.37 59.05 325.65 57.63 326.70 56.68 C327.75 55.73 328.45 54.66 329.50 54.54 C330.55 54.43 331.72 55.14 333.00 55.97 C334.28 56.80 335.80 58.34 337.20 59.52 C338.60 60.71 340.23 62.01 341.40 63.08 C342.57 64.15 342.97 64.94 344.20 65.93 C345.43 66.91 347.12 68.09 348.80 68.97 C350.48 69.85 352.27 70.60 354.30 71.21 C356.33 71.82 358.42 72.21 361.00 72.63 C363.58 73.06 368.33 73.56 369.80 73.75" fill="none" stroke="#dedede" stroke-width="1.3"/>
<path d="M311.50 73.55 C311.70 73.34 311.92 73.24 312.70 72.33 C313.48 71.41 315.03 69.48 316.20 68.06 C317.37 66.64 318.53 65.10 319.70 63.79 C320.87 62.49 322.03 61.42 323.20 60.24 C324.37 59.05 325.65 57.63 326.70 56.68 C327.75 55.73 328.45 54.66 329.50 54.54 C330.55 54.43 331.72 55.14 333.00 55.97 C334.28 56.80 335.80 58.34 337.20 59.52 C338.60 60.71 340.23 62.01 341.40 63.08 C342.57 64.15 342.97 64.94 344.20 65.93 C345.43 66.91 347.12 68.09 348.80 68.97 C350.48 69.85 352.27 70.60 354.30 71.21 C356.33 71.82 358.42 72.21 361.00 72.63 C363.58 73.06 368.33 73.56 369.80 73.75" fill="none" stroke="#7a7a7a" stroke-width="0.95" stroke-dasharray="1.0 1.0"/>
<path d="M351.20 73.85 C351.75 73.55 353.58 73.06 354.50 72.02 C355.42 70.99 356.05 70.06 356.70 67.65 C357.35 65.25 357.87 61.84 358.40 57.59 C358.93 53.34 359.38 46.94 359.90 42.15 C360.42 37.35 361.02 31.97 361.50 28.84 C361.98 25.70 362.42 23.53 362.80 23.35 C363.18 23.16 363.37 24.58 363.80 27.72 C364.23 30.85 364.88 37.17 365.40 42.15 C365.92 47.13 366.37 53.53 366.90 57.59 C367.43 61.66 367.95 64.32 368.60 66.54 C369.25 68.75 369.70 69.80 370.80 70.90 C371.90 72.01 373.93 72.65 375.20 73.14 C376.47 73.63 377.87 73.73 378.40 73.85" fill="none" stroke="#111" stroke-width="0.95" stroke-linejoin="round"/>
<path d="M417.30 19.90H514.50V73.75" fill="none" stroke="#666" stroke-width="1.25"/>
<path d="M417.30 19.90V73.75" fill="none" stroke="#111" stroke-width="1.2"/>
<path d="M416.70 73.75H514.50" fill="none" stroke="#111" stroke-width="1.45"/>
<path d="M419.30 74.15v0.9 M423.06 74.15v0.9 M426.82 74.15v0.9 M430.58 74.15v0.9 M434.34 74.15v0.9 M438.10 74.15v0.9 M441.86 74.15v0.9 M445.62 74.15v0.9 M449.38 74.15v0.9 M453.14 74.15v0.9 M456.90 74.15v0.9 M460.66 74.15v0.9 M464.42 74.15v0.9 M468.18 74.15v0.9 M471.94 74.15v0.9 M475.70 74.15v0.9 M479.46 74.15v0.9 M483.22 74.15v0.9 M486.98 74.15v0.9 M490.74 74.15v0.9 M494.50 74.15v0.9 M498.26 74.15v0.9 M502.02 74.15v0.9 M505.78 74.15v0.9 M509.54 74.15v0.9 M513.30 74.15v0.9 M417.00 73.75h-1.0 M417.00 71.60h-1.0 M417.00 69.44h-1.0 M417.00 67.29h-1.0 M417.00 65.13h-1.0 M417.00 62.98h-1.0 M417.00 60.83h-1.0 M417.00 58.67h-1.0 M417.00 56.52h-1.0 M417.00 54.36h-1.0 M417.00 52.21h-1.0 M417.00 50.06h-1.0 M417.00 47.90h-1.0 M417.00 45.75h-1.0 M417.00 43.59h-1.0 M417.00 41.44h-1.0 M417.00 39.29h-1.0 M417.00 37.13h-1.0 M417.00 34.98h-1.0 M417.00 32.82h-1.0 M417.00 30.67h-1.0 M417.00 28.52h-1.0 M417.00 26.36h-1.0 M417.00 24.21h-1.0 M417.00 22.05h-1.0 M417.00 19.90h-1.0" stroke="#111" stroke-width="0.7" fill="none"/>
<text transform="translate(419.30 80.05) scale(1 0.9)" font-size="5.0" text-anchor="middle" fill="#000" stroke="#000" stroke-width="0.1">0</text>
<text transform="translate(438.10 80.05) scale(1 0.9)" font-size="5.0" text-anchor="middle" fill="#000" stroke="#000" stroke-width="0.1">200</text>
<text transform="translate(456.90 80.05) scale(1 0.9)" font-size="5.0" text-anchor="middle" fill="#000" stroke="#000" stroke-width="0.1">400</text>
<text transform="translate(475.70 80.05) scale(1 0.9)" font-size="5.0" text-anchor="middle" fill="#000" stroke="#000" stroke-width="0.1">600</text>
<text transform="translate(494.50 80.05) scale(1 0.9)" font-size="5.0" text-anchor="middle" fill="#000" stroke="#000" stroke-width="0.1">800</text>
<text transform="translate(513.30 80.05) scale(1 0.9)" font-size="5.0" text-anchor="middle" fill="#000" stroke="#000" stroke-width="0.1">1000</text>
<text transform="translate(413.60 73.75) rotate(-90) scale(1 0.88)" font-size="4.8" text-anchor="middle" fill="#000" stroke="#000" stroke-width="0.1">0</text>
<text transform="translate(413.60 62.98) rotate(-90) scale(1 0.88)" font-size="4.8" text-anchor="middle" fill="#000" stroke="#000" stroke-width="0.1">20</text>
<text transform="translate(413.60 52.21) rotate(-90) scale(1 0.88)" font-size="4.8" text-anchor="middle" fill="#000" stroke="#000" stroke-width="0.1">40</text>
<text transform="translate(413.60 41.44) rotate(-90) scale(1 0.88)" font-size="4.8" text-anchor="middle" fill="#000" stroke="#000" stroke-width="0.1">60</text>
<text transform="translate(413.60 30.67) rotate(-90) scale(1 0.88)" font-size="4.8" text-anchor="middle" fill="#000" stroke="#000" stroke-width="0.1">80</text>
<text transform="translate(413.60 19.90) rotate(-90) scale(1 0.88)" font-size="4.8" text-anchor="middle" fill="#000" stroke="#000" stroke-width="0.1">100</text>
<text x="419.70" y="26.50" font-size="7.3" font-weight="bold" fill="#000" stroke="#000" stroke-width="0.12">15 MIN</text>
<path d="M449.60 72.64 C450.15 71.74 451.98 69.41 452.90 67.21 C453.82 65.01 454.38 62.02 455.10 59.46 C455.82 56.89 456.48 53.45 457.20 51.81 C457.92 50.16 458.55 50.03 459.40 49.59 C460.25 49.16 461.38 48.94 462.30 49.19 C463.22 49.44 463.93 50.20 464.90 51.10 C465.87 52.01 467.20 53.95 468.10 54.63 C469.00 55.30 469.38 54.32 470.30 55.13 C471.22 55.93 472.50 57.81 473.60 59.46 C474.70 61.10 475.63 63.45 476.90 64.99 C478.17 66.54 479.57 67.73 481.20 68.72 C482.83 69.71 484.70 70.34 486.70 70.93 C488.70 71.52 490.67 71.84 493.20 72.24 C495.73 72.64 500.45 73.16 501.90 73.35" fill="none" stroke="#dedede" stroke-width="1.3"/>
<path d="M449.60 72.64 C450.15 71.74 451.98 69.41 452.90 67.21 C453.82 65.01 454.38 62.02 455.10 59.46 C455.82 56.89 456.48 53.45 457.20 51.81 C457.92 50.16 458.55 50.03 459.40 49.59 C460.25 49.16 461.38 48.94 462.30 49.19 C463.22 49.44 463.93 50.20 464.90 51.10 C465.87 52.01 467.20 53.95 468.10 54.63 C469.00 55.30 469.38 54.32 470.30 55.13 C471.22 55.93 472.50 57.81 473.60 59.46 C474.70 61.10 475.63 63.45 476.90 64.99 C478.17 66.54 479.57 67.73 481.20 68.72 C482.83 69.71 484.70 70.34 486.70 70.93 C488.70 71.52 490.67 71.84 493.20 72.24 C495.73 72.64 500.45 73.16 501.90 73.35" fill="none" stroke="#7a7a7a" stroke-width="0.95" stroke-dasharray="1.0 1.0"/>
<path d="M479.00 73.35 C479.55 73.16 481.32 73.26 482.30 72.24 C483.28 71.22 484.17 69.71 484.90 67.21 C485.63 64.71 486.12 61.45 486.70 57.24 C487.28 53.03 487.78 47.06 488.40 41.94 C489.02 36.83 489.78 27.28 490.40 26.54 C491.02 25.81 491.57 33.12 492.10 37.51 C492.63 41.91 493.05 48.52 493.60 52.91 C494.15 57.31 494.73 61.03 495.40 63.89 C496.07 66.74 496.70 68.57 497.60 70.03 C498.50 71.49 499.72 72.09 500.80 72.64 C501.88 73.20 503.55 73.23 504.10 73.35" fill="none" stroke="#111" stroke-width="0.95" stroke-linejoin="round"/>
<path d="M290.70 99.20H387.50V152.60" fill="none" stroke="#666" stroke-width="1.25"/>
<path d="M290.70 99.20V152.60" fill="none" stroke="#111" stroke-width="1.2"/>
<path d="M290.10 152.60H387.50" fill="none" stroke="#111" stroke-width="1.45"/>
<path d="M292.70 153.00v0.9 M296.44 153.00v0.9 M300.19 153.00v0.9 M303.93 153.00v0.9 M307.68 153.00v0.9 M311.42 153.00v0.9 M315.16 153.00v0.9 M318.91 153.00v0.9 M322.65 153.00v0.9 M326.40 153.00v0.9 M330.14 153.00v0.9 M333.88 153.00v0.9 M337.63 153.00v0.9 M341.37 153.00v0.9 M345.12 153.00v0.9 M348.86 153.00v0.9 M352.60 153.00v0.9 M356.35 153.00v0.9 M360.09 153.00v0.9 M363.84 153.00v0.9 M367.58 153.00v0.9 M371.32 153.00v0.9 M375.07 153.00v0.9 M378.81 153.00v0.9 M382.56 153.00v0.9 M386.30 153.00v0.9 M290.40 152.60h-1.0 M290.40 150.46h-1.0 M290.40 148.33h-1.0 M290.40 146.19h-1.0 M290.40 144.06h-1.0 M290.40 141.92h-1.0 M290.40 139.78h-1.0 M290.40 137.65h-1.0 M290.40 135.51h-1.0 M290.40 133.38h-1.0 M290.40 131.24h-1.0 M290.40 129.10h-1.0 M290.40 126.97h-1.0 M290.40 124.83h-1.0 M290.40 122.70h-1.0 M290.40 120.56h-1.0 M290.40 118.42h-1.0 M290.40 116.29h-1.0 M290.40 114.15h-1.0 M290.40 112.02h-1.0 M290.40 109.88h-1.0 M290.40 107.74h-1.0 M290.40 105.61h-1.0 M290.40 103.47h-1.0 M290.40 101.34h-1.0 M290.40 99.20h-1.0" stroke="#111" stroke-width="0.7" fill="none"/>
<text transform="translate(292.70 158.90) scale(1 0.9)" font-size="5.0" text-anchor="middle" fill="#000" stroke="#000" stroke-width="0.1">0</text>
<text transform="translate(311.42 158.90) scale(1 0.9)" font-size="5.0" text-anchor="middle" fill="#000" stroke="#000" stroke-width="0.1">200</text>
<text transform="translate(330.14 158.90) scale(1 0.9)" font-size="5.0" text-anchor="middle" fill="#000" stroke="#000" stroke-width="0.1">400</text>
<text transform="translate(348.86 158.90) scale(1 0.9)" font-size="5.0" text-anchor="middle" fill="#000" stroke="#000" stroke-width="0.1">600</text>
<text transform="translate(367.58 158.90) scale(1 0.9)" font-size="5.0" text-anchor="middle" fill="#000" stroke="#000" stroke-width="0.1">800</text>
<text transform="translate(386.30 158.90) scale(1 0.9)" font-size="5.0" text-anchor="middle" fill="#000" stroke="#000" stroke-width="0.1">1000</text>
<text transform="translate(287.00 152.60) rotate(-90) scale(1 0.88)" font-size="4.8" text-anchor="middle" fill="#000" stroke="#000" stroke-width="0.1">0</text>
<text transform="translate(287.00 141.92) rotate(-90) scale(1 0.88)" font-size="4.8" text-anchor="middle" fill="#000" stroke="#000" stroke-width="0.1">20</text>
<text transform="translate(287.00 131.24) rotate(-90) scale(1 0.88)" font-size="4.8" text-anchor="middle" fill="#000" stroke="#000" stroke-width="0.1">40</text>
<text transform="translate(287.00 120.56) rotate(-90) scale(1 0.88)" font-size="4.8" text-anchor="middle" fill="#000" stroke="#000" stroke-width="0.1">60</text>
<text transform="translate(287.00 109.88) rotate(-90) scale(1 0.88)" font-size="4.8" text-anchor="middle" fill="#000" stroke="#000" stroke-width="0.1">80</text>
<text transform="translate(287.00 99.20) rotate(-90) scale(1 0.88)" font-size="4.8" text-anchor="middle" fill="#000" stroke="#000" stroke-width="0.1">100</text>
<text x="293.10" y="105.80" font-size="7.3" font-weight="bold" fill="#000" stroke="#000" stroke-width="0.12">30 MIN</text>
<path d="M315.30 151.89 C316.02 151.15 318.23 149.09 319.60 147.44 C320.97 145.79 322.23 143.51 323.50 141.98 C324.77 140.45 326.03 139.17 327.20 138.24 C328.37 137.31 329.58 137.01 330.50 136.42 C331.42 135.83 331.78 134.61 332.70 134.70 C333.62 134.78 334.73 135.90 336.00 136.92 C337.27 137.95 338.85 139.65 340.30 140.87 C341.75 142.08 343.25 143.18 344.70 144.21 C346.15 145.23 347.37 146.13 349.00 147.04 C350.63 147.95 352.13 148.93 354.50 149.67 C356.87 150.41 360.30 151.00 363.20 151.49 C366.10 151.98 370.45 152.41 371.90 152.60" fill="none" stroke="#dedede" stroke-width="1.3"/>
<path d="M315.30 151.89 C316.02 151.15 318.23 149.09 319.60 147.44 C320.97 145.79 322.23 143.51 323.50 141.98 C324.77 140.45 326.03 139.17 327.20 138.24 C328.37 137.31 329.58 137.01 330.50 136.42 C331.42 135.83 331.78 134.61 332.70 134.70 C333.62 134.78 334.73 135.90 336.00 136.92 C337.27 137.95 338.85 139.65 340.30 140.87 C341.75 142.08 343.25 143.18 344.70 144.21 C346.15 145.23 347.37 146.13 349.00 147.04 C350.63 147.95 352.13 148.93 354.50 149.67 C356.87 150.41 360.30 151.00 363.20 151.49 C366.10 151.98 370.45 152.41 371.90 152.60" fill="none" stroke="#7a7a7a" stroke-width="0.95" stroke-dasharray="1.0 1.0"/>
<path d="M353.50 152.60 C354.05 152.30 355.90 151.99 356.80 150.78 C357.70 149.57 358.25 148.07 358.90 145.32 C359.55 142.57 360.15 138.34 360.70 134.29 C361.25 130.25 361.70 125.09 362.20 121.05 C362.70 117.00 363.26 112.60 363.70 110.02 C364.14 107.44 364.42 105.20 364.85 105.57 C365.28 105.94 365.81 108.94 366.30 112.25 C366.79 115.55 367.27 120.99 367.80 125.39 C368.33 129.79 368.95 135.14 369.50 138.64 C370.05 142.15 370.37 144.41 371.10 146.43 C371.83 148.45 372.70 149.75 373.90 150.78 C375.10 151.81 377.57 152.30 378.30 152.60" fill="none" stroke="#111" stroke-width="0.95" stroke-linejoin="round"/>
<path d="M418.10 98.80H513.90V152.60" fill="none" stroke="#666" stroke-width="1.25"/>
<path d="M418.10 98.80V152.60" fill="none" stroke="#111" stroke-width="1.2"/>
<path d="M417.50 152.60H513.90" fill="none" stroke="#111" stroke-width="1.45"/>
<path d="M420.10 153.00v0.9 M423.80 153.00v0.9 M427.51 153.00v0.9 M431.21 153.00v0.9 M434.92 153.00v0.9 M438.62 153.00v0.9 M442.32 153.00v0.9 M446.03 153.00v0.9 M449.73 153.00v0.9 M453.44 153.00v0.9 M457.14 153.00v0.9 M460.84 153.00v0.9 M464.55 153.00v0.9 M468.25 153.00v0.9 M471.96 153.00v0.9 M475.66 153.00v0.9 M479.36 153.00v0.9 M483.07 153.00v0.9 M486.77 153.00v0.9 M490.48 153.00v0.9 M494.18 153.00v0.9 M497.88 153.00v0.9 M501.59 153.00v0.9 M505.29 153.00v0.9 M509.00 153.00v0.9 M512.70 153.00v0.9 M417.80 152.60h-1.0 M417.80 150.45h-1.0 M417.80 148.30h-1.0 M417.80 146.14h-1.0 M417.80 143.99h-1.0 M417.80 141.84h-1.0 M417.80 139.69h-1.0 M417.80 137.54h-1.0 M417.80 135.38h-1.0 M417.80 133.23h-1.0 M417.80 131.08h-1.0 M417.80 128.93h-1.0 M417.80 126.78h-1.0 M417.80 124.62h-1.0 M417.80 122.47h-1.0 M417.80 120.32h-1.0 M417.80 118.17h-1.0 M417.80 116.02h-1.0 M417.80 113.86h-1.0 M417.80 111.71h-1.0 M417.80 109.56h-1.0 M417.80 107.41h-1.0 M417.80 105.26h-1.0 M417.80 103.10h-1.0 M417.80 100.95h-1.0 M417.80 98.80h-1.0" stroke="#111" stroke-width="0.7" fill="none"/>
<text transform="translate(420.10 158.90) scale(1 0.9)" font-size="5.0" text-anchor="middle" fill="#000" stroke="#000" stroke-width="0.1">0</text>
<text transform="translate(438.62 158.90) scale(1 0.9)" font-size="5.0" text-anchor="middle" fill="#000" stroke="#000" stroke-width="0.1">200</text>
<text transform="translate(457.14 158.90) scale(1 0.9)" font-size="5.0" text-anchor="middle" fill="#000" stroke="#000" stroke-width="0.1">400</text>
<text transform="translate(475.66 158.90) scale(1 0.9)" font-size="5.0" text-anchor="middle" fill="#000" stroke="#000" stroke-width="0.1">600</text>
<text transform="translate(494.18 158.90) scale(1 0.9)" font-size="5.0" text-anchor="middle" fill="#000" stroke="#000" stroke-width="0.1">800</text>
<text transform="translate(512.70 158.90) scale(1 0.9)" font-size="5.0" text-anchor="middle" fill="#000" stroke="#000" stroke-width="0.1">1000</text>
<text transform="translate(414.40 152.60) rotate(-90) scale(1 0.88)" font-size="4.8" text-anchor="middle" fill="#000" stroke="#000" stroke-width="0.1">0</text>
<text transform="translate(414.40 141.84) rotate(-90) scale(1 0.88)" font-size="4.8" text-anchor="middle" fill="#000" stroke="#000" stroke-width="0.1">20</text>
<text transform="translate(414.40 131.08) rotate(-90) scale(1 0.88)" font-size="4.8" text-anchor="middle" fill="#000" stroke="#000" stroke-width="0.1">40</text>
<text transform="translate(414.40 120.32) rotate(-90) scale(1 0.88)" font-size="4.8" text-anchor="middle" fill="#000" stroke="#000" stroke-width="0.1">60</text>
<text transform="translate(414.40 109.56) rotate(-90) scale(1 0.88)" font-size="4.8" text-anchor="middle" fill="#000" stroke="#000" stroke-width="0.1">80</text>
<text transform="translate(414.40 98.80) rotate(-90) scale(1 0.88)" font-size="4.8" text-anchor="middle" fill="#000" stroke="#000" stroke-width="0.1">100</text>
<text x="420.50" y="105.40" font-size="7.3" font-weight="bold" fill="#000" stroke="#000" stroke-width="0.12">45 MIN</text>
<path d="M445.30 151.89 C446.02 151.34 448.15 150.02 449.60 148.55 C451.05 147.09 452.73 144.81 454.00 143.09 C455.27 141.37 456.12 139.61 457.20 138.24 C458.28 136.87 459.40 135.39 460.50 134.90 C461.60 134.41 462.72 135.31 463.80 135.31 C464.88 135.31 465.92 134.72 467.00 134.90 C468.08 135.09 469.20 135.71 470.30 136.42 C471.40 137.13 472.50 138.12 473.60 139.15 C474.70 140.18 475.82 141.37 476.90 142.59 C477.98 143.80 479.02 145.25 480.10 146.43 C481.18 147.61 481.95 148.82 483.40 149.67 C484.85 150.51 486.43 151.00 488.80 151.49 C491.17 151.98 496.13 152.41 497.60 152.60" fill="none" stroke="#dedede" stroke-width="1.3"/>
<path d="M445.30 151.89 C446.02 151.34 448.15 150.02 449.60 148.55 C451.05 147.09 452.73 144.81 454.00 143.09 C455.27 141.37 456.12 139.61 457.20 138.24 C458.28 136.87 459.40 135.39 460.50 134.90 C461.60 134.41 462.72 135.31 463.80 135.31 C464.88 135.31 465.92 134.72 467.00 134.90 C468.08 135.09 469.20 135.71 470.30 136.42 C471.40 137.13 472.50 138.12 473.60 139.15 C474.70 140.18 475.82 141.37 476.90 142.59 C477.98 143.80 479.02 145.25 480.10 146.43 C481.18 147.61 481.95 148.82 483.40 149.67 C484.85 150.51 486.43 151.00 488.80 151.49 C491.17 151.98 496.13 152.41 497.60 152.60" fill="none" stroke="#7a7a7a" stroke-width="0.95" stroke-dasharray="1.0 1.0"/>
<path d="M480.90 152.60 C481.45 152.30 483.28 151.81 484.20 150.78 C485.12 149.75 485.78 148.82 486.40 146.43 C487.02 144.04 487.37 140.65 487.90 136.42 C488.43 132.19 489.05 125.82 489.60 121.05 C490.15 116.28 490.76 110.92 491.20 107.80 C491.64 104.68 491.87 101.97 492.25 102.34 C492.63 102.71 493.04 106.18 493.50 110.03 C493.96 113.87 494.45 120.63 495.00 125.40 C495.55 130.17 496.15 135.14 496.80 138.64 C497.45 142.15 498.00 144.41 498.90 146.43 C499.80 148.45 500.92 149.75 502.20 150.78 C503.48 151.81 505.87 152.30 506.60 152.60" fill="none" stroke="#111" stroke-width="0.95" stroke-linejoin="round"/>
<path d="M291.00 179.00H387.50V232.60" fill="none" stroke="#666" stroke-width="1.25"/>
<path d="M291.00 179.00V232.60" fill="none" stroke="#111" stroke-width="1.2"/>
<path d="M290.40 232.60H387.50" fill="none" stroke="#111" stroke-width="1.45"/>
<path d="M293.00 233.00v0.9 M296.73 233.00v0.9 M300.46 233.00v0.9 M304.20 233.00v0.9 M307.93 233.00v0.9 M311.66 233.00v0.9 M315.39 233.00v0.9 M319.12 233.00v0.9 M322.86 233.00v0.9 M326.59 233.00v0.9 M330.32 233.00v0.9 M334.05 233.00v0.9 M337.78 233.00v0.9 M341.52 233.00v0.9 M345.25 233.00v0.9 M348.98 233.00v0.9 M352.71 233.00v0.9 M356.44 233.00v0.9 M360.18 233.00v0.9 M363.91 233.00v0.9 M367.64 233.00v0.9 M371.37 233.00v0.9 M375.10 233.00v0.9 M378.84 233.00v0.9 M382.57 233.00v0.9 M386.30 233.00v0.9 M290.70 232.60h-1.0 M290.70 230.46h-1.0 M290.70 228.31h-1.0 M290.70 226.17h-1.0 M290.70 224.02h-1.0 M290.70 221.88h-1.0 M290.70 219.74h-1.0 M290.70 217.59h-1.0 M290.70 215.45h-1.0 M290.70 213.30h-1.0 M290.70 211.16h-1.0 M290.70 209.02h-1.0 M290.70 206.87h-1.0 M290.70 204.73h-1.0 M290.70 202.58h-1.0 M290.70 200.44h-1.0 M290.70 198.30h-1.0 M290.70 196.15h-1.0 M290.70 194.01h-1.0 M290.70 191.86h-1.0 M290.70 189.72h-1.0 M290.70 187.58h-1.0 M290.70 185.43h-1.0 M290.70 183.29h-1.0 M290.70 181.14h-1.0 M290.70 179.00h-1.0" stroke="#111" stroke-width="0.7" fill="none"/>
<text transform="translate(293.00 238.90) scale(1 0.9)" font-size="5.0" text-anchor="middle" fill="#000" stroke="#000" stroke-width="0.1">0</text>
<text transform="translate(311.66 238.90) scale(1 0.9)" font-size="5.0" text-anchor="middle" fill="#000" stroke="#000" stroke-width="0.1">200</text>
<text transform="translate(330.32 238.90) scale(1 0.9)" font-size="5.0" text-anchor="middle" fill="#000" stroke="#000" stroke-width="0.1">400</text>
<text transform="translate(348.98 238.90) scale(1 0.9)" font-size="5.0" text-anchor="middle" fill="#000" stroke="#000" stroke-width="0.1">600</text>
<text transform="translate(367.64 238.90) scale(1 0.9)" font-size="5.0" text-anchor="middle" fill="#000" stroke="#000" stroke-width="0.1">800</text>
<text transform="translate(386.30 238.90) scale(1 0.9)" font-size="5.0" text-anchor="middle" fill="#000" stroke="#000" stroke-width="0.1">1000</text>
<text transform="translate(287.30 232.60) rotate(-90) scale(1 0.88)" font-size="4.8" text-anchor="middle" fill="#000" stroke="#000" stroke-width="0.1">0</text>
<text transform="translate(287.30 221.88) rotate(-90) scale(1 0.88)" font-size="4.8" text-anchor="middle" fill="#000" stroke="#000" stroke-width="0.1">20</text>
<text transform="translate(287.30 211.16) rotate(-90) scale(1 0.88)" font-size="4.8" text-anchor="middle" fill="#000" stroke="#000" stroke-width="0.1">40</text>
<text transform="translate(287.30 200.44) rotate(-90) scale(1 0.88)" font-size="4.8" text-anchor="middle" fill="#000" stroke="#000" stroke-width="0.1">60</text>
<text transform="translate(287.30 189.72) rotate(-90) scale(1 0.88)" font-size="4.8" text-anchor="middle" fill="#000" stroke="#000" stroke-width="0.1">80</text>
<text transform="translate(287.30 179.00) rotate(-90) scale(1 0.88)" font-size="4.8" text-anchor="middle" fill="#000" stroke="#000" stroke-width="0.1">100</text>
<text x="293.40" y="185.60" font-size="7.3" font-weight="bold" fill="#000" stroke="#000" stroke-width="0.12">60 MIN</text>
<path d="M316.00 231.80 C316.18 231.56 315.87 231.21 317.10 230.39 C318.33 229.57 321.42 228.16 323.40 226.87 C325.38 225.58 327.13 223.93 329.00 222.64 C330.87 221.35 332.73 220.11 334.60 219.12 C336.47 218.14 338.45 217.42 340.20 216.71 C341.95 216.01 343.88 215.32 345.10 214.90 C346.32 214.48 346.68 213.85 347.50 214.20 C348.32 214.55 349.12 215.60 350.00 217.01 C350.88 218.42 351.98 221.24 352.80 222.64 C353.62 224.05 354.08 224.52 354.90 225.46 C355.72 226.40 356.32 227.44 357.70 228.28 C359.08 229.11 360.83 229.82 363.20 230.49 C365.57 231.16 370.45 232.00 371.90 232.30" fill="none" stroke="#dedede" stroke-width="1.3"/>
<path d="M316.00 231.80 C316.18 231.56 315.87 231.21 317.10 230.39 C318.33 229.57 321.42 228.16 323.40 226.87 C325.38 225.58 327.13 223.93 329.00 222.64 C330.87 221.35 332.73 220.11 334.60 219.12 C336.47 218.14 338.45 217.42 340.20 216.71 C341.95 216.01 343.88 215.32 345.10 214.90 C346.32 214.48 346.68 213.85 347.50 214.20 C348.32 214.55 349.12 215.60 350.00 217.01 C350.88 218.42 351.98 221.24 352.80 222.64 C353.62 224.05 354.08 224.52 354.90 225.46 C355.72 226.40 356.32 227.44 357.70 228.28 C359.08 229.11 360.83 229.82 363.20 230.49 C365.57 231.16 370.45 232.00 371.90 232.30" fill="none" stroke="#7a7a7a" stroke-width="0.95" stroke-dasharray="1.0 1.0"/>
<path d="M355.00 232.30 C355.55 232.00 357.40 231.69 358.30 230.49 C359.20 229.28 359.75 227.79 360.40 225.06 C361.05 222.33 361.65 218.12 362.20 214.10 C362.75 210.07 363.20 204.95 363.70 200.92 C364.20 196.90 364.80 192.53 365.20 189.96 C365.60 187.40 365.75 185.17 366.10 185.54 C366.45 185.91 366.85 188.89 367.30 192.17 C367.75 195.46 368.33 201.06 368.80 205.25 C369.27 209.44 369.63 214.01 370.10 217.31 C370.57 220.62 370.87 222.96 371.60 225.06 C372.33 227.15 373.40 228.68 374.50 229.88 C375.60 231.09 377.58 231.90 378.20 232.30" fill="none" stroke="#111" stroke-width="0.95" stroke-linejoin="round"/>
<path d="M419.40 179.10H514.90V232.45" fill="none" stroke="#666" stroke-width="1.25"/>
<path d="M419.40 179.10V232.45" fill="none" stroke="#111" stroke-width="1.2"/>
<path d="M418.80 232.45H514.90" fill="none" stroke="#111" stroke-width="1.45"/>
<path d="M421.40 232.85v0.9 M425.09 232.85v0.9 M428.78 232.85v0.9 M432.48 232.85v0.9 M436.17 232.85v0.9 M439.86 232.85v0.9 M443.55 232.85v0.9 M447.24 232.85v0.9 M450.94 232.85v0.9 M454.63 232.85v0.9 M458.32 232.85v0.9 M462.01 232.85v0.9 M465.70 232.85v0.9 M469.40 232.85v0.9 M473.09 232.85v0.9 M476.78 232.85v0.9 M480.47 232.85v0.9 M484.16 232.85v0.9 M487.86 232.85v0.9 M491.55 232.85v0.9 M495.24 232.85v0.9 M498.93 232.85v0.9 M502.62 232.85v0.9 M506.32 232.85v0.9 M510.01 232.85v0.9 M513.70 232.85v0.9 M419.10 232.45h-1.0 M419.10 230.32h-1.0 M419.10 228.18h-1.0 M419.10 226.05h-1.0 M419.10 223.91h-1.0 M419.10 221.78h-1.0 M419.10 219.65h-1.0 M419.10 217.51h-1.0 M419.10 215.38h-1.0 M419.10 213.24h-1.0 M419.10 211.11h-1.0 M419.10 208.98h-1.0 M419.10 206.84h-1.0 M419.10 204.71h-1.0 M419.10 202.57h-1.0 M419.10 200.44h-1.0 M419.10 198.31h-1.0 M419.10 196.17h-1.0 M419.10 194.04h-1.0 M419.10 191.90h-1.0 M419.10 189.77h-1.0 M419.10 187.64h-1.0 M419.10 185.50h-1.0 M419.10 183.37h-1.0 M419.10 181.23h-1.0 M419.10 179.10h-1.0" stroke="#111" stroke-width="0.7" fill="none"/>
<text transform="translate(421.40 238.75) scale(1 0.9)" font-size="5.0" text-anchor="middle" fill="#000" stroke="#000" stroke-width="0.1">0</text>
<text transform="translate(439.86 238.75) scale(1 0.9)" font-size="5.0" text-anchor="middle" fill="#000" stroke="#000" stroke-width="0.1">200</text>
<text transform="translate(458.32 238.75) scale(1 0.9)" font-size="5.0" text-anchor="middle" fill="#000" stroke="#000" stroke-width="0.1">400</text>
<text transform="translate(476.78 238.75) scale(1 0.9)" font-size="5.0" text-anchor="middle" fill="#000" stroke="#000" stroke-width="0.1">600</text>
<text transform="translate(495.24 238.75) scale(1 0.9)" font-size="5.0" text-anchor="middle" fill="#000" stroke="#000" stroke-width="0.1">800</text>
<text transform="translate(513.70 238.75) scale(1 0.9)" font-size="5.0" text-anchor="middle" fill="#000" stroke="#000" stroke-width="0.1">1000</text>
<text transform="translate(415.70 232.45) rotate(-90) scale(1 0.88)" font-size="4.8" text-anchor="middle" fill="#000" stroke="#000" stroke-width="0.1">0</text>
<text transform="translate(415.70 221.78) rotate(-90) scale(1 0.88)" font-size="4.8" text-anchor="middle" fill="#000" stroke="#000" stroke-width="0.1">20</text>
<text transform="translate(415.70 211.11) rotate(-90) scale(1 0.88)" font-size="4.8" text-anchor="middle" fill="#000" stroke="#000" stroke-width="0.1">40</text>
<text transform="translate(415.70 200.44) rotate(-90) scale(1 0.88)" font-size="4.8" text-anchor="middle" fill="#000" stroke="#000" stroke-width="0.1">60</text>
<text transform="translate(415.70 189.77) rotate(-90) scale(1 0.88)" font-size="4.8" text-anchor="middle" fill="#000" stroke="#000" stroke-width="0.1">80</text>
<text transform="translate(415.70 179.10) rotate(-90) scale(1 0.88)" font-size="4.8" text-anchor="middle" fill="#000" stroke="#000" stroke-width="0.1">100</text>
<text x="421.80" y="185.10" font-size="7.3" font-weight="bold" fill="#000" stroke="#000" stroke-width="0.12">120 MIN</text>
<text x="421.80" y="192.50" font-size="7.3" font-weight="bold" fill="#000" stroke="#000" stroke-width="0.12">249 ng/ml</text>
<path d="M447.40 231.45 C448.13 231.01 450.17 229.93 451.80 228.84 C453.43 227.75 455.38 226.32 457.20 224.93 C459.02 223.54 461.07 221.80 462.70 220.52 C464.33 219.23 465.55 218.23 467.00 217.21 C468.45 216.19 470.12 215.12 471.40 214.40 C472.68 213.68 473.78 212.90 474.70 212.90 C475.62 212.90 476.07 213.50 476.90 214.40 C477.73 215.30 478.80 216.92 479.70 218.31 C480.60 219.70 481.32 221.34 482.30 222.72 C483.28 224.11 484.32 225.46 485.60 226.63 C486.88 227.80 488.00 228.94 490.00 229.74 C492.00 230.54 495.25 231.05 497.60 231.45 C499.95 231.85 503.02 232.03 504.10 232.15" fill="none" stroke="#dedede" stroke-width="1.3"/>
<path d="M447.40 231.45 C448.13 231.01 450.17 229.93 451.80 228.84 C453.43 227.75 455.38 226.32 457.20 224.93 C459.02 223.54 461.07 221.80 462.70 220.52 C464.33 219.23 465.55 218.23 467.00 217.21 C468.45 216.19 470.12 215.12 471.40 214.40 C472.68 213.68 473.78 212.90 474.70 212.90 C475.62 212.90 476.07 213.50 476.90 214.40 C477.73 215.30 478.80 216.92 479.70 218.31 C480.60 219.70 481.32 221.34 482.30 222.72 C483.28 224.11 484.32 225.46 485.60 226.63 C486.88 227.80 488.00 228.94 490.00 229.74 C492.00 230.54 495.25 231.05 497.60 231.45 C499.95 231.85 503.02 232.03 504.10 232.15" fill="none" stroke="#7a7a7a" stroke-width="0.95" stroke-dasharray="1.0 1.0"/>
<path d="M482.30 232.15 C482.85 231.85 484.70 231.55 485.60 230.34 C486.50 229.14 487.05 227.65 487.70 224.93 C488.35 222.20 488.95 218.38 489.50 214.00 C490.05 209.62 490.57 203.03 491.00 198.65 C491.43 194.28 491.73 190.26 492.10 187.72 C492.47 185.18 492.77 183.04 493.20 183.41 C493.63 183.78 494.23 186.65 494.70 189.93 C495.17 193.21 495.52 198.71 496.00 203.07 C496.48 207.43 497.05 212.46 497.60 216.10 C498.15 219.75 498.58 222.66 499.30 224.93 C500.02 227.20 500.73 228.54 501.90 229.74 C503.07 230.95 505.57 231.75 506.30 232.15" fill="none" stroke="#111" stroke-width="0.95" stroke-linejoin="round"/>
<path d="M0.9 12.1L4.8 0.3L8.0 0.3L12.0 12.1L8.9 12.1L8.2 9.4L4.6 9.4L3.9 12.1Z M6.4 3.1L7.85 7.1L4.95 7.1Z" fill="#000" fill-rule="evenodd"/>
<text transform="translate(268.6 13.1) scale(0.92 1)" font-size="17" font-weight="bold" stroke="#000" stroke-width="0.3">B</text>
<text transform="translate(108 9.6) scale(0.94 1)" font-size="11.8" font-weight="bold" stroke="#000" stroke-width="0.3">Patient T7</text>
<text transform="translate(367.9 9.6) scale(0.94 1)" font-size="11.8" font-weight="bold" stroke="#000" stroke-width="0.3">Patient T12</text>
<text transform="translate(81 255.6) scale(1.161 1)" font-size="9.2" font-weight="bold" stroke="#000" stroke-width="0.3">Rhodamine Fluorescence</text>
<text transform="translate(343.4 255.7) scale(1.172 1)" font-size="9.2" font-weight="bold" stroke="#000" stroke-width="0.3">Rhodamine Fluorescence</text>
<text transform="translate(8.6 159.8) rotate(-90) scale(0.985 1)" font-size="10.8" font-weight="bold" stroke="#000" stroke-width="0.3">Cell Number</text>
<text transform="translate(278.1 159.2) rotate(-90) scale(0.985 1)" font-size="10.8" font-weight="bold" stroke="#000" stroke-width="0.3">Cell Number</text>
</svg>
</body></html>
